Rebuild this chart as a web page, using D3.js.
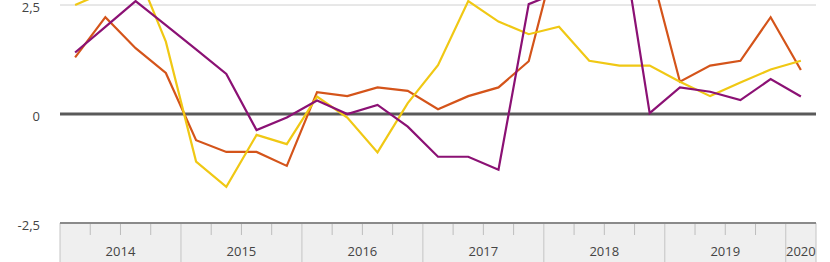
<!DOCTYPE html>
<html><head><meta charset="utf-8">
<script src="https://cdn.jsdelivr.net/npm/d3@7/dist/d3.min.js"></script>
<style>body{margin:0;background:#fff}svg{display:block}</style>
</head><body>
<svg id="c" width="830" height="262"></svg>
<script>
const quarters = ["2014Q1","2014Q2","2014Q3","2014Q4","2015Q1","2015Q2","2015Q3","2015Q4","2016Q1","2016Q2","2016Q3","2016Q4","2017Q1","2017Q2","2017Q3","2017Q4","2018Q1","2018Q2","2018Q3","2018Q4","2019Q1","2019Q2","2019Q3","2019Q4","2020Q1"];
const years = ["2014","2015","2016","2017","2018","2019","2020"];
const orangeValues = [1.3,2.22,1.51,0.94,-0.6,-0.87,-0.87,-1.19,0.5,0.41,0.61,0.53,0.11,0.41,0.61,1.21,3.9,4.2,3.9,3.4,0.74,1.11,1.22,2.22,1.01];
const purpleValues = [1.41,2.0,2.59,2.04,1.48,0.92,-0.37,-0.08,0.31,0.0,0.21,-0.29,-0.98,-0.98,-1.28,2.52,2.8,3.6,4.4,0.02,0.61,0.51,0.32,0.8,0.4];
const yellowValues = [2.5,2.8,3.35,1.66,-1.09,-1.67,-0.48,-0.69,0.4,-0.08,-0.88,0.25,1.12,2.59,2.12,1.83,2.0,1.22,1.11,1.11,0.74,0.41,0.72,1.02,1.22];
const yTicks = [2.5,0,-2.5];
const series = [
  {name:"orange", values: orangeValues, color:"#d4541a"},
  {name:"yellow", values: yellowValues, color:"#f0c814"},
  {name:"purple", values: purpleValues, color:"#8b1174"}
];

(function(){
const svg = d3.select("#c");
const mLeft = 60, mRight = 816, mTop = 5, mBottom = 223, H = 262;
const x = d3.scaleBand().domain(quarters).range([mLeft, mRight]);
const y = d3.scaleLinear().domain([-2.5, 2.5]).range([mBottom, mTop]);
const font = "'Open Sans', 'Noto Sans', sans-serif";

svg.append("rect").attr("x", mLeft).attr("y", mBottom).attr("width", mRight-mLeft).attr("height", H-mBottom).attr("fill", "#efefef");

svg.append("line").attr("x1", mLeft).attr("x2", mRight).attr("y1", y(2.5)).attr("y2", y(2.5)).attr("stroke", "#d0d0d0").attr("stroke-width", 1);

const fmt = v => v === 0 ? "0" : d3.format(".1f")(v).replace(".", ",").replace("\u2212", "-");
svg.selectAll("text.yl").data(yTicks).enter().append("text")
  .attr("class","yl").attr("x", 40).attr("y", d => y(d) + 2).attr("dy", "0.35em")
  .attr("text-anchor","end").attr("font-family", font)
  .attr("font-size", 13).attr("fill", "#444").text(fmt);

svg.selectAll("line.qt").data(quarters.filter(q => !q.endsWith("Q1"))).enter().append("line")
  .attr("class","qt")
  .attr("x1", d => x(d)).attr("x2", d => x(d)).attr("y1", mBottom).attr("y2", mBottom+12)
  .attr("stroke", "#bdbdbd").attr("stroke-width", 1);
const yearStarts = years.map(yr => x(yr + "Q1"));
svg.selectAll("line.yt").data(yearStarts.concat([mRight])).enter().append("line")
  .attr("class","yt")
  .attr("x1", d => d).attr("x2", d => d).attr("y1", mBottom).attr("y2", H)
  .attr("stroke", "#c4c4c4").attr("stroke-width", 1);
svg.selectAll("text.yr").data(years).enter().append("text")
  .attr("class","yr")
  .attr("x", yr => {
    const qs = quarters.filter(q => q.startsWith(yr));
    return (x(qs[0]) + x(qs[qs.length-1]) + x.bandwidth()) / 2;
  })
  .attr("y", 256).attr("text-anchor","middle")
  .attr("font-family", font).attr("font-size", 13).attr("fill", "#444")
  .text(d => d);
svg.append("line").attr("x1", mLeft).attr("x2", mRight).attr("y1", mBottom).attr("y2", mBottom).attr("stroke", "#8a8a8a").attr("stroke-width", 2);

svg.append("line").attr("x1", mLeft).attr("x2", mRight).attr("y1", y(0)).attr("y2", y(0)).attr("stroke", "#5a5a5a").attr("stroke-width", 3);

svg.append("clipPath").attr("id","clip").append("rect").attr("x", mLeft).attr("y", 0).attr("width", mRight-mLeft).attr("height", mBottom);

const line = d3.line().x((d,i) => x(quarters[i]) + x.bandwidth()/2).y(d => y(d));
svg.append("g").attr("clip-path","url(#clip)").selectAll("path").data(series).enter().append("path")
  .attr("d", d => line(d.values)).attr("fill","none").attr("stroke", d => d.color)
  .attr("stroke-width", 2.2).attr("stroke-linejoin","miter");
})();
</script>
</body></html>
